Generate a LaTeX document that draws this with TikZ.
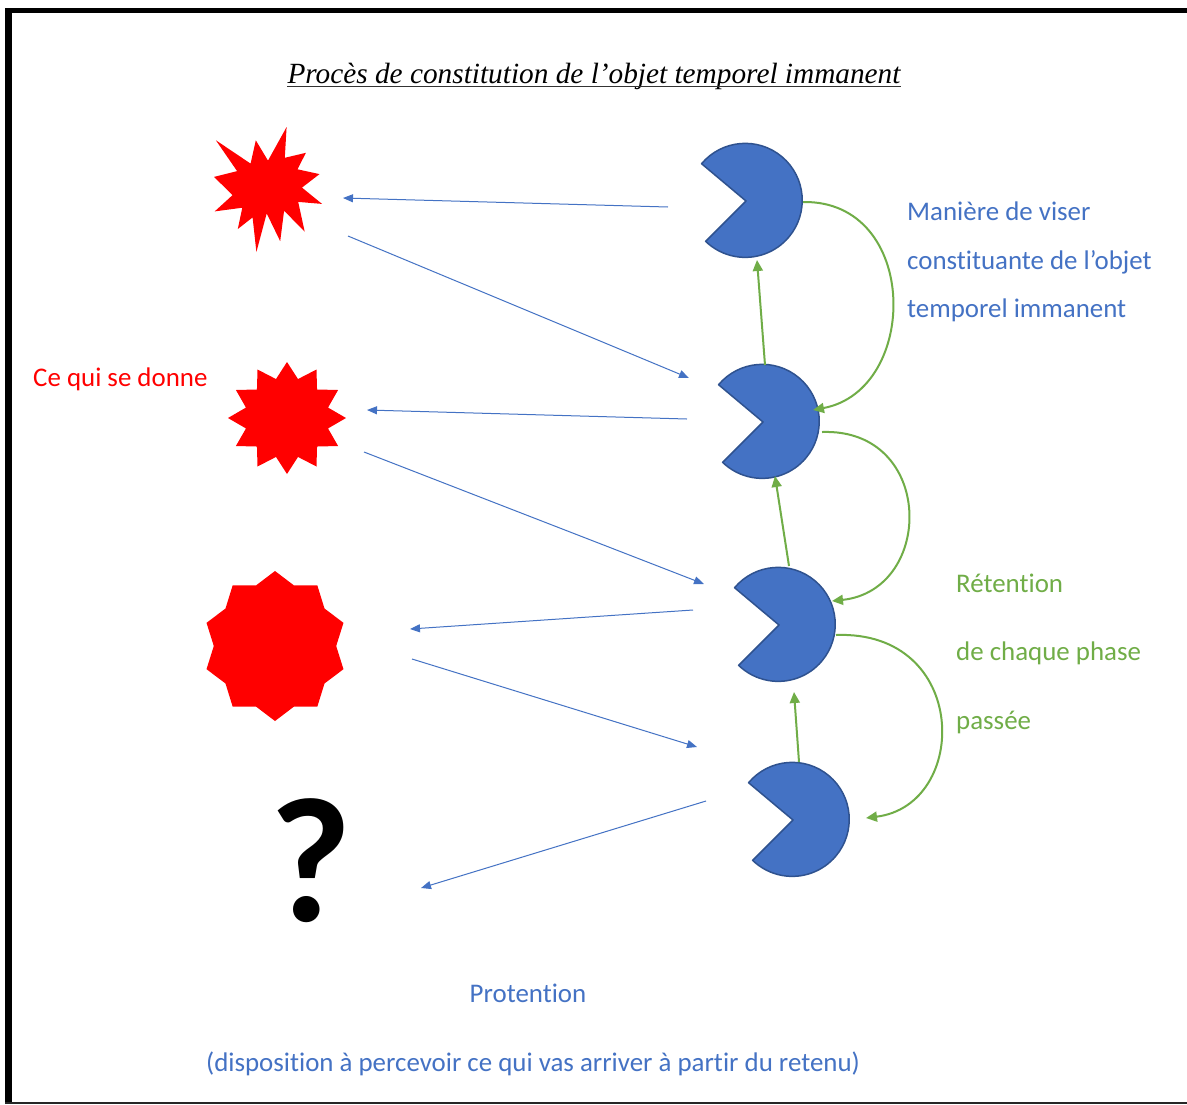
\documentclass[tikz,border=0pt]{standalone}
\usepackage{fontspec}
\setmainfont{Carlito}[Ligatures=NoCommon]
\newfontfamily\titlefont{Liberation Serif}
\usetikzlibrary{arrows.meta}
\definecolor{pacblue}{HTML}{4472C4}
\definecolor{pacedge}{HTML}{2F528F}
\definecolor{retgreen}{HTML}{70AD47}
\definecolor{burstred}{HTML}{FF0000}
\begin{document}
\begin{tikzpicture}[x=1pt,y=-1pt,
  pac/.style={fill=pacblue,draw=pacedge,line width=1.5pt,line join=round},
  burst/.style={fill=burstred},
  bluearrow/.style={draw=pacblue,line width=1pt,-{Triangle[length=10pt,width=8pt]}},
  greenarrow/.style={draw=retgreen,line width=2pt,-{Triangle[length=11pt,width=10pt]}},
  label/.style={inner sep=0pt,font=\fontsize{26.9}{30}\selectfont},
  bluetext/.style={label,text=pacblue},
  greentext/.style={label,text=retgreen},
  redtext/.style={label,text=burstred}]
\useasboundingbox (0,0) rectangle (1187,1104);
\fill[white] (0,0) rectangle (1187,1104);
% frame
\fill[black] (5,8.3) rectangle (12.3,1104);
\fill[black] (5,8.3) rectangle (1187,13.3);
\fill[black!85] (5,1101.7) rectangle (1187,1104);

% title
\node[inner sep=0pt,anchor=base,font=\titlefont\itshape\fontsize{29.3}{32}\selectfont] (title) at (594,83) {Procès de constitution de l’objet temporel immanent};
\draw[line width=1.2pt,black!80] ([yshift=-3.5pt]title.base west) -- ([yshift=-3.5pt]title.base east);

% given objects
\coordinate (burst1) at (268,190);
\fill[burst] (268,160.6) -- (286.6,127) -- (284.8,157.8) -- (305.9,152.8) -- (297.5,169.3)
  -- (319.5,174.1) -- (302,187.6) -- (322,203.9) -- (298.2,201.9) -- (304.7,231.7)
  -- (284.1,210.7) -- (280.2,241.2) -- (266.7,213.4) -- (256.4,252) -- (252.6,217.4)
  -- (237.8,229) -- (242.3,207.7) -- (214.7,211.4) -- (232.6,195.1) -- (214,176.9)
  -- (237.1,171.1) -- (215.9,140.3) -- (250.6,163.6) -- (255.8,140.3) -- cycle;
\coordinate (burst2) at (287,418);
\fill[burst] plot[samples at={0,...,23},variable=\k]
  ({287+(mod(\k,2)==1 ? 0.72 : 1)*59*cos(90+15*\k)},{418-(mod(\k,2)==1 ? 0.72 : 1)*56*sin(90+15*\k)}) -- cycle;
\coordinate (burst3) at (275,646);
\fill[burst] plot[samples at={0,...,19},variable=\k]
  ({275+(mod(\k,2)==1 ? 0.85 : 1)*72*cos(90+18*\k)},{646-(mod(\k,2)==1 ? 0.85 : 1)*75*sin(90+18*\k)}) -- cycle;
\node[inner sep=0pt,anchor=base,font=\bfseries\fontsize{178}{180}\selectfont] (unknown) at (311,921) {?};

% intentional phases (pac-men)
\coordinate (pac1) at (746,201);
\coordinate (pac2) at (763,422);
\coordinate (pac3) at (779,625);
\coordinate (pac4) at (793,820);
\foreach \p in {pac1,pac2,pac3,pac4}{
  \filldraw[pac] (\p) -- ++(-140:58) arc[start angle=-140,end angle=134,radius=57] -- cycle;
}

% blue arrows (visée / protention)
\coordinate (b1s) at (668,207); \coordinate (b1e) at (343,198);
\coordinate (b2s) at (348,236); \coordinate (b2e) at (689,378);
\coordinate (b3s) at (687,419); \coordinate (b3e) at (367,410);
\coordinate (b4s) at (364,452); \coordinate (b4e) at (704,584);
\coordinate (b5s) at (693,610); \coordinate (b5e) at (410,629);
\coordinate (b6s) at (412,659); \coordinate (b6e) at (697,747);
\coordinate (b7s) at (706,801); \coordinate (b7e) at (421,888);
\foreach \i in {1,...,7}{ \draw[bluearrow] (b\i s) -- (b\i e); }

% green straight arrows
\coordinate (g1s) at (765,365); \coordinate (g1e) at (757,260);
\coordinate (g2s) at (789,566); \coordinate (g2e) at (775,476);
\coordinate (g3s) at (799,762); \coordinate (g3e) at (794,692);
\foreach \i in {1,2,3}{ \draw[greenarrow] (g\i s) -- (g\i e); }

% green curved arrows (rétention)
\coordinate (c1s) at (803,202); \coordinate (c1e) at (813,410);
\coordinate (c2s) at (822,432); \coordinate (c2e) at (832,601);
\coordinate (c3s) at (836,635); \coordinate (c3e) at (866,818);
\draw[greenarrow] (c1s) .. controls (920,200) and (920,390) .. (c1e);
\draw[greenarrow] (c2s) .. controls (935,428) and (935,590) .. (c2e);
\draw[greenarrow] (c3s) .. controls (970,630) and (970,805) .. (c3e);

% labels
\node[redtext,anchor=base west] (donne) at (33,386) {Ce qui se donne};
\node[bluetext,anchor=base west] (viser1) at (907,220) {Manière de viser};
\node[bluetext,anchor=base west] (viser2) at (907,269) {constituante de l’objet};
\node[bluetext,anchor=base west] (viser3) at (907,317) {temporel immanent};
\node[greentext,anchor=base west] (ret1) at (956,592) {Rétention};
\node[greentext,anchor=base west] (ret2) at (956,660) {de chaque phase};
\node[greentext,anchor=base west] (ret3) at (956,729) {passée};
\node[bluetext,anchor=base] (prot1) at (528,1002) {Protention};
\node[bluetext,anchor=base] (prot2) at (533,1071) {(disposition à percevoir ce qui vas arriver à partir du retenu)};
\end{tikzpicture}
\end{document}
